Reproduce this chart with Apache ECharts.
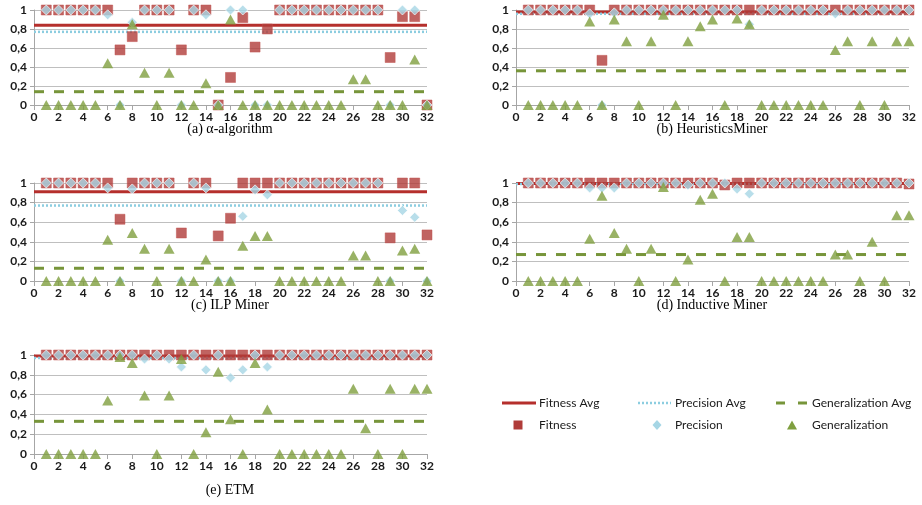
<!DOCTYPE html>
<html>
<head>
<meta charset="utf-8">
<script src="https://cdn.jsdelivr.net/npm/echarts@6/dist/echarts.min.js"></script>
<style>
html,body{margin:0;padding:0;background:#fff;}
#chart{width:922px;height:505px;}
</style>
</head>
<body>
<div id="chart"></div>
<script>
// Log numbers (x axis)
const runs = [1,2,3,4,5,6,7,8,9,10,11,12,13,14,15,16,17,18,19,20,21,22,23,24,25,26,27,28,29,30,31,32];
const xTicks = [0,2,4,6,8,10,12,14,16,18,20,22,24,26,28,30,32];
const yTicks = ['0','0,2','0,4','0,6','0,8','1'];

const panelTitles = ['(a) α-algorithm','(b) HeuristicsMiner','(c) ILP Miner','(d) Inductive Miner','(e) ETM'];
const legendNames = ['Fitness Avg','Precision Avg','Generalization Avg','Fitness','Precision','Generalization'];

// (a) alpha-algorithm
const fitnessA = [1,1,1,1,1,1,0.58,0.72,1,1,1,0.58,1,1,0,0.29,0.92,0.61,0.8,1,1,1,1,1,1,1,1,1,0.5,0.93,0.93,0];
const precisionA = [1,1,1,1,1,0.95,0,0.87,1,1,1,0,1,0.95,0,1,1,0,0,1,1,1,1,1,1,1,1,1,0,1,1,0];
const generalizationA = [0,0,0,0,0,0.44,0,0.85,0.34,0,0.34,0,0,0.23,0,0.9,0,0,0,0,0,0,0,0,0,0.27,0.27,0,0,0,0.48,0];
// (b) HeuristicsMiner
const fitnessB = [1,1,1,1,1,1,0.47,1,1,1,1,1,1,1,1,1,1,1,1,1,1,1,1,1,1,1,1,1,1,1,1,1];
const precisionB = [1,1,1,1,1,0.96,0,0.97,1,1,1,1,1,1,1,1,1,1,0.85,1,1,1,1,1,1,0.96,1,1,1,1,1,1];
const generalizationB = [0,0,0,0,0,0.88,0,0.9,0.67,0,0.67,0.95,0,0.67,0.83,0.9,0,0.91,0.85,0,0,0,0,0,0,0.58,0.67,0,0.67,0,0.67,0.67];
// (c) ILP Miner
const fitnessC = [1,1,1,1,1,1,0.63,1,1,1,1,0.49,1,1,0.46,0.64,1,1,1,1,1,1,1,1,1,1,1,1,0.44,1,1,0.47];
const precisionC = [1,1,1,1,1,0.95,0,0.94,1,1,1,0,1,0.95,0,0,0.66,0.93,0.88,1,1,1,1,1,1,1,1,1,0,0.72,0.65,0];
const generalizationC = [0,0,0,0,0,0.42,0,0.49,0.33,0,0.33,0,0,0.22,0,0,0.36,0.46,0.46,0,0,0,0,0,0,0.26,0.26,0,0,0.31,0.33,0];
// (d) Inductive Miner
const fitnessD = [1,1,1,1,1,1,1,1,1,1,1,1,1,1,1,1,0.98,1,1,1,1,1,1,1,1,1,1,1,1,1,1,0.99];
const precisionD = [1,1,1,1,1,0.95,0.95,0.95,1,1,1,1,1,0.98,1,1,1,0.94,0.89,1,1,1,1,1,1,1,1,1,1,1,1,1];
const generalizationD = [0,0,0,0,0,0.43,0.87,0.49,0.33,0,0.33,0.96,0,0.22,0.83,0.89,0,0.45,0.45,0,0,0,0,0,0,0.27,0.27,0,0.4,0,0.67,0.67];
// (e) ETM
const fitnessE = [1,1,1,1,1,1,1,1,1,1,1,1,1,1,1,1,1,1,1,1,1,1,1,1,1,1,1,1,1,1,1,1];
const precisionE = [1,1,1,1,1,1,1,1,0.96,1,0.96,0.88,1,0.85,1,0.77,0.85,1,0.88,1,1,1,1,1,1,1,1,1,1,1,1,1];
const generalizationE = [0,0,0,0,0,0.54,0.98,0.92,0.59,0,0.59,0.96,0,0.22,0.83,0.35,0,0.92,0.45,0,0,0,0,0,0,0.66,0.26,0,0.66,0,0.66,0.66];

// Averages per panel (a..e)
const fitnessAvg = [0.84,0.98,0.91,0.995,0.99];
const precisionAvg = [0.77,0.96,0.77,0.99,0.97];
const generalizationAvg = [0.14,0.36,0.13,0.27,0.33];

const fitnessSets = [fitnessA,fitnessB,fitnessC,fitnessD,fitnessE];
const precisionSets = [precisionA,precisionB,precisionC,precisionD,precisionE];
const generalizationSets = [generalizationA,generalizationB,generalizationC,generalizationD,generalizationE];

// ---------- styling / layout ----------
const C_FIT = '#b03c39', C_FIT_LINE = '#b52f2c';
const C_PREC = '#a6d6e5', C_PREC_LINE = '#8ccde0';
const C_GEN = '#7f9f3f', C_GEN_LINE = '#77953a';
const FONT = 'Lato';

const gridPos = [
  {left:34, top:10, width:393, height:95},
  {left:516, top:10, width:393, height:95},
  {left:34, top:183, width:393, height:98},
  {left:516, top:183, width:393, height:98},
  {left:34, top:355, width:393, height:99}
];
const titlePos = [[230,129],[712,129],[230,305],[712,305],[230,490]];

const grids = [], xAxes = [], yAxes = [], series = [], graphics = [];
for (let i = 0; i < 5; i++) {
  grids.push(Object.assign({containLabel:false}, gridPos[i]));
  xAxes.push({
    type:'value', gridIndex:i, min:xTicks[0], max:xTicks[xTicks.length-1], interval:xTicks[1]-xTicks[0],
    axisLine:{show:true, lineStyle:{color:'#a6a6a6', width:1}},
    axisTick:{show:true, length:5, lineStyle:{color:'#a6a6a6'}},
    axisLabel:{margin:6, fontFamily:FONT, fontSize:12, fontWeight:'bold', color:'#1a1a1a'},
    splitLine:{show:false}
  });
  yAxes.push({
    type:'value', gridIndex:i, min:0, max:1, interval:0.2,
    axisLine:{show:true, lineStyle:{color:'#a6a6a6', width:1}},
    axisTick:{show:true, length:4, lineStyle:{color:'#a6a6a6'}},
    axisLabel:{margin:7, fontFamily:FONT, fontSize:12, fontWeight:'bold', color:'#1a1a1a',
      formatter:function(v){ return yTicks[Math.round(v*5)]; }},
    splitLine:{show:true, lineStyle:{color:'#bfbfbf', width:1}}
  });
  const x0 = xTicks[0], x1 = xTicks[xTicks.length-1];
  series.push({
    name:legendNames[0], type:'line', xAxisIndex:i, yAxisIndex:i, symbol:'none', silent:true, z:2,
    data:[[x0,fitnessAvg[i]],[x1,fitnessAvg[i]]],
    lineStyle:{color:C_FIT_LINE, width:3}
  });
  series.push({
    name:legendNames[1], type:'line', xAxisIndex:i, yAxisIndex:i, symbol:'none', silent:true, z:2,
    data:[[x0,precisionAvg[i]],[x1,precisionAvg[i]]],
    lineStyle:{color:C_PREC_LINE, width:2.5, type:[2,2]}
  });
  series.push({
    name:legendNames[2], type:'line', xAxisIndex:i, yAxisIndex:i, symbol:'none', silent:true, z:2,
    data:[[x0,generalizationAvg[i]],[x1,generalizationAvg[i]]],
    lineStyle:{color:C_GEN_LINE, width:3, type:[10,10]}
  });
  series.push({
    name:legendNames[3], type:'scatter', xAxisIndex:i, yAxisIndex:i, z:3,
    symbol:'rect', symbolSize:10,
    data:runs.map((x,j)=>[x, fitnessSets[i][j]]),
    itemStyle:{color:C_FIT, borderColor:'#c0504d', borderWidth:0.6}
  });
  series.push({
    name:legendNames[4], type:'scatter', xAxisIndex:i, yAxisIndex:i, z:4,
    symbol:'diamond', symbolSize:[10,10],
    data:runs.map((x,j)=>[x, precisionSets[i][j]]),
    itemStyle:{color:C_PREC, borderColor:'#ffffff', borderWidth:0.8}
  });
  series.push({
    name:legendNames[5], type:'scatter', xAxisIndex:i, yAxisIndex:i, z:5,
    symbol:'triangle', symbolSize:[11,10],
    data:runs.map((x,j)=>[x, generalizationSets[i][j]]),
    itemStyle:{color:C_GEN}
  });
  graphics.push({
    type:'text', x:titlePos[i][0], y:titlePos[i][1],
    style:{text:panelTitles[i], font:'14px "Liberation Serif"', fill:'#000',
      align:'center', verticalAlign:'middle', textAlign:'center', textVerticalAlign:'middle'}
  });
}

// Legend (drawn as graphics in the lower-right area)
const legTextStyle = (t,x,y)=>({type:'text', x:x, y:y,
  style:{text:t, font:'12px "'+FONT+'"', fill:'#1a1a1a', align:'left', verticalAlign:'middle', textAlign:'left', textVerticalAlign:'middle'}});
graphics.push({type:'line', shape:{x1:502,y1:403,x2:536,y2:403}, style:{stroke:C_FIT_LINE, lineWidth:3}});
graphics.push(legTextStyle(legendNames[0],539,403));
graphics.push({type:'line', shape:{x1:638,y1:403,x2:671,y2:403}, style:{stroke:C_PREC_LINE, lineWidth:2.5, lineDash:[2,2]}});
graphics.push(legTextStyle(legendNames[1],675,403));
graphics.push({type:'line', shape:{x1:776,y1:403,x2:807,y2:403}, style:{stroke:C_GEN_LINE, lineWidth:3, lineDash:[9,13]}});
graphics.push(legTextStyle(legendNames[2],812,403));
graphics.push({type:'rect', shape:{x:513.5,y:420.5,width:9,height:9}, style:{fill:C_FIT}});
graphics.push(legTextStyle(legendNames[3],539,425));
graphics.push({type:'polygon', shape:{points:[[657,420],[661.5,425],[657,430],[652.5,425]]}, style:{fill:C_PREC}});
graphics.push(legTextStyle(legendNames[4],675,425));
graphics.push({type:'polygon', shape:{points:[[792,420.5],[797,429.5],[787,429.5]]}, style:{fill:C_GEN}});
graphics.push(legTextStyle(legendNames[5],812,425));

const chart = echarts.init(document.getElementById('chart'), null, {renderer:'canvas'});
chart.setOption({
  animation:false,
  backgroundColor:'#ffffff',
  grid:grids, xAxis:xAxes, yAxis:yAxes, series:series,
  graphic:{elements:graphics}
});
</script>
</body>
</html>
